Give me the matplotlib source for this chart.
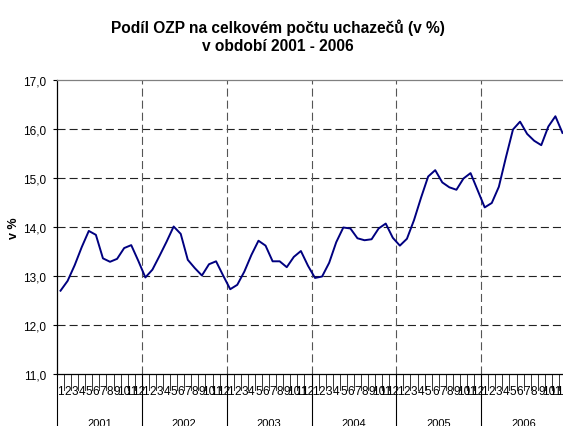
import matplotlib
matplotlib.use('Agg')
import matplotlib.pyplot as plt
import matplotlib.transforms as mtransforms

plt.rcParams['font.family'] = ['Liberation Sans', 'DejaVu Sans']
plt.rcParams['lines.scale_dashes'] = False

TITLE = 'Podíl OZP na celkovém počtu uchazečů (v %)\nv období 2001 - 2006'
Y_LABEL = 'v %'

years = ['2001', '2002', '2003', '2004', '2005', '2006']
months = [str(m) for m in range(1, 13)]

# monthly share in %, Jan 2001 - Dec 2006
share_2001 = [12.70, 12.90, 13.22, 13.59, 13.92, 13.84, 13.36, 13.29, 13.35, 13.57, 13.63, 13.31]
share_2002 = [12.97, 13.13, 13.41, 13.70, 14.01, 13.86, 13.33, 13.16, 13.01, 13.24, 13.30, 13.01]
share_2003 = [12.73, 12.82, 13.09, 13.43, 13.72, 13.62, 13.30, 13.30, 13.18, 13.39, 13.51, 13.21]
share_2004 = [12.96, 12.99, 13.27, 13.69, 13.99, 13.97, 13.77, 13.73, 13.75, 13.97, 14.07, 13.78]
share_2005 = [13.62, 13.76, 14.14, 14.60, 15.03, 15.16, 14.91, 14.81, 14.76, 14.99, 15.10, 14.75]
share_2006 = [14.40, 14.49, 14.82, 15.42, 15.99, 16.15, 15.90, 15.76, 15.67, 16.05, 16.26, 15.92]

values = share_2001 + share_2002 + share_2003 + share_2004 + share_2005 + share_2006
n = len(values)
x = [i + 0.5 for i in range(n)]

fig = plt.figure(figsize=(5.63, 4.27), dpi=100)
# plot area runs a little past the right edge of the picture
ax = fig.add_axes([57 / 563, 52 / 427, 509 / 563, 294 / 427])

ax.plot(x, values, color='#000080', linewidth=1.4, zorder=3)

ax.set_xlim(0, n)
ax.set_ylim(11, 17)
ax.set_yticks(range(11, 18))
ax.set_yticklabels(['%d,0' % v for v in range(11, 18)], fontsize=8.5)
ax.tick_params(axis='y', direction='out', length=3, width=0.8, pad=5, colors='black')

# horizontal grid
for v in range(12, 17):
    ax.axhline(v, color='#222222', linewidth=0.8, linestyle=(0, (5.8, 2.9)), zorder=1)
# year separators
for k in range(1, len(years)):
    ax.axvline(k * 12, color='#555555', linewidth=0.8, linestyle=(0, (5.8, 2.9)), zorder=1)

ax.spines['right'].set_visible(False)
ax.spines['top'].set_color('#808080')
ax.spines['top'].set_linewidth(0.9)
ax.spines['left'].set_color('black')
ax.spines['left'].set_linewidth(0.9)
ax.spines['bottom'].set_color('black')
ax.spines['bottom'].set_linewidth(0.9)

# category axis: months, then years
ax.set_xticks([])
trans = mtransforms.blended_transform_factory(ax.transData, ax.transAxes)
px = 1 / 294
for i in range(n + 1):
    if i % 12 == 0:
        ax.plot([i, i], [0, -52 * px], transform=trans, color='black', linewidth=0.8, clip_on=False)
    else:
        ax.plot([i, i], [0, -16 * px], transform=trans, color='#333333', linewidth=0.7, clip_on=False)
for i in range(n):
    ax.text(x[i], -17 * px, months[i % 12], transform=trans, ha='center', va='center',
            fontsize=8.5, clip_on=False)
for k, yr in enumerate(years):
    ax.text(k * 12 + 6, -44 * px, yr, transform=trans, ha='center', va='top', fontsize=8)

ax.set_ylabel(Y_LABEL, fontsize=9, fontweight='bold')
ax.yaxis.set_label_coords(-37 / 509, 0.5)
fig.text(278 / 563, 1 - 19 / 427, TITLE, ha='center', va='top', fontsize=11.2,
         fontweight='bold', linespacing=1.3)

fig.savefig('out.png', dpi=100)
